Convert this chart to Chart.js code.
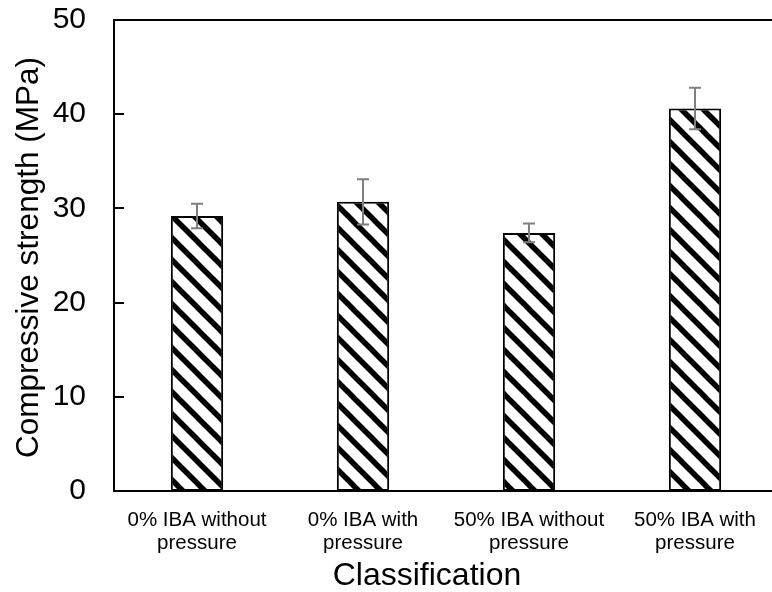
<!DOCTYPE html>
<html>
<head>
<meta charset="utf-8">
<script src="https://cdn.jsdelivr.net/npm/chart.js@4"></script>
<style>
  html, body { margin: 0; padding: 0; background: #fff; overflow: hidden; }
  #wrap { width: 772px; height: 592px; overflow: hidden; }
  canvas { display: block; }
</style>
</head>
<body>
<div id="wrap"><canvas id="c" width="780" height="592"></canvas></div>
<script>
// Compressive strength by mix (mean and standard deviation)
const categories = [
  ['0% IBA without', 'pressure'],
  ['0% IBA with', 'pressure'],
  ['50% IBA without', 'pressure'],
  ['50% IBA with', 'pressure']
];
const strength = [29.2, 30.7, 27.4, 40.6];
const strengthError = [1.3, 2.4, 1.0, 2.2];
const yTicks = [0, 10, 20, 30, 40, 50];
const xTitle = 'Classification';
const yTitle = 'Compressive strength (MPa)';

const FONT = "'Liberation Sans', Arial, sans-serif";

// Diagonal hatch fill for the bars
function makeHatch() {
  const size = 22;
  const pc = document.createElement('canvas');
  pc.width = size; pc.height = size;
  const g = pc.getContext('2d');
  g.fillStyle = '#fff';
  g.fillRect(0, 0, size, size);
  g.strokeStyle = '#000';
  g.lineWidth = 5.5;
  for (let k = -1; k <= 1; k++) {
    g.beginPath();
    g.moveTo(k * size - 6, -6);
    g.lineTo(k * size + size + 6, size + 6);
    g.stroke();
  }
  return g.createPattern(pc, 'repeat');
}

// Error bars, inward y ticks, the top frame line and the axis titles
const decorations = {
  id: 'decorations',
  afterDatasetsDraw(chart) {
    const { ctx, chartArea, scales } = chart;
    const x = scales.x, y = scales.y;
    ctx.save();
    // frame top
    ctx.strokeStyle = '#000';
    ctx.lineWidth = 2;
    ctx.beginPath();
    ctx.moveTo(chartArea.left - 1, chartArea.top);
    ctx.lineTo(chartArea.right + 2, chartArea.top);
    ctx.stroke();
    // inward tick marks on the value axis
    yTicks.forEach(v => {
      const py = Math.round(y.getPixelForValue(v));
      ctx.beginPath();
      ctx.moveTo(chartArea.left, py);
      ctx.lineTo(chartArea.left + 10, py);
      ctx.stroke();
    });
    // error bars
    ctx.strokeStyle = '#7f7f7f';
    ctx.lineWidth = 2;
    strength.forEach((v, i) => {
      const px = Math.round(x.getPixelForValue(i));
      const top = y.getPixelForValue(v + strengthError[i]);
      const bot = y.getPixelForValue(v - strengthError[i]);
      ctx.beginPath();
      ctx.moveTo(px, top); ctx.lineTo(px, bot);
      ctx.moveTo(px - 6, top); ctx.lineTo(px + 6, top);
      ctx.moveTo(px - 6, bot); ctx.lineTo(px + 6, bot);
      ctx.stroke();
    });
    // axis titles
    ctx.fillStyle = '#000';
    ctx.textAlign = 'center';
    ctx.textBaseline = 'middle';
    ctx.font = '32px ' + FONT;
    ctx.fillText(xTitle, 427, 576);
    ctx.translate(29, (chartArea.top + chartArea.bottom) / 2 + 2);
    ctx.rotate(-Math.PI / 2);
    ctx.font = '31.5px ' + FONT;
    ctx.fillText(yTitle, 0, 0);
    ctx.restore();
  }
};

const ctx = document.getElementById('c').getContext('2d');
new Chart(ctx, {
  type: 'bar',
  data: {
    labels: categories,
    datasets: [{
      data: strength,
      backgroundColor: makeHatch(),
      borderColor: '#000',
      borderWidth: 2,
      borderSkipped: false,
      categoryPercentage: 1,
      barPercentage: 0.315
    }]
  },
  options: {
    responsive: false,
    animation: false,
    devicePixelRatio: 1,
    layout: { padding: { left: 0, top: 20, right: 2, bottom: 0 } },
    plugins: { legend: { display: false }, tooltip: { enabled: false } },
    scales: {
      x: {
        offset: true,
        grid: { display: false },
        border: { display: true, color: '#000', width: 2 },
        ticks: {
          color: '#000',
          padding: 10,
          maxRotation: 0,
          autoSkip: false,
          font: { family: FONT, size: 20.5, lineHeight: 1.12 }
        },
        afterFit(s) { s.height = 101; s.paddingLeft = 0; s.paddingRight = 0; }
      },
      y: {
        min: 0,
        max: 50,
        grid: { display: false },
        border: { display: true, color: '#000', width: 2 },
        afterBuildTicks(s) { s.ticks = yTicks.map(v => ({ value: v })); },
        ticks: {
          color: '#000',
          padding: 20,
          font: { family: FONT, size: 30 }
        },
        afterFit(s) { s.width = 114; s.paddingTop = 0; s.paddingBottom = 0; }
      }
    }
  },
  plugins: [decorations]
});
</script>
</body>
</html>
